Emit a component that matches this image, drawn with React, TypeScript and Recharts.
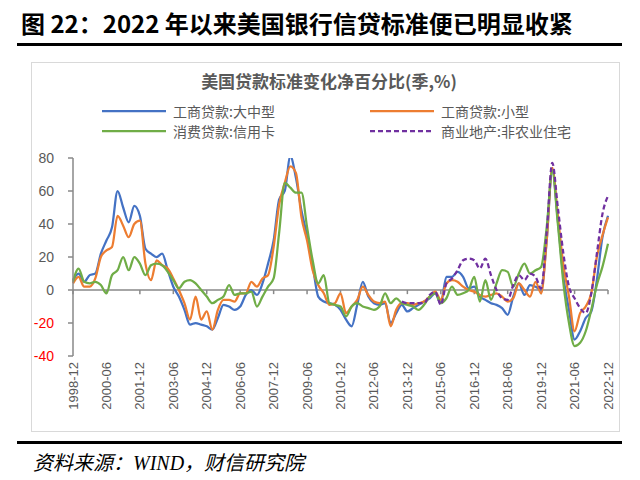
import { LineChart, Line, XAxis, YAxis, ReferenceLine } from "recharts";

// quarterly, 1998-12 .. 2022-12
const quarters = [
  "1998-12",
  "1999-03", "1999-06", "1999-09", "1999-12",
  "2000-03", "2000-06", "2000-09", "2000-12",
  "2001-03", "2001-06", "2001-09", "2001-12",
  "2002-03", "2002-06", "2002-09", "2002-12",
  "2003-03", "2003-06", "2003-09", "2003-12",
  "2004-03", "2004-06", "2004-09", "2004-12",
  "2005-03", "2005-06", "2005-09", "2005-12",
  "2006-03", "2006-06", "2006-09", "2006-12",
  "2007-03", "2007-06", "2007-09", "2007-12",
  "2008-03", "2008-06", "2008-09", "2008-12",
  "2009-03", "2009-06", "2009-09", "2009-12",
  "2010-03", "2010-06", "2010-09", "2010-12",
  "2011-03", "2011-06", "2011-09", "2011-12",
  "2012-03", "2012-06", "2012-09", "2012-12",
  "2013-03", "2013-06", "2013-09", "2013-12",
  "2014-03", "2014-06", "2014-09", "2014-12",
  "2015-03", "2015-06", "2015-09", "2015-12",
  "2016-03", "2016-06", "2016-09", "2016-12",
  "2017-03", "2017-06", "2017-09", "2017-12",
  "2018-03", "2018-06", "2018-09", "2018-12",
  "2019-03", "2019-06", "2019-09", "2019-12",
  "2020-03", "2020-06", "2020-09", "2020-12",
  "2021-03", "2021-06", "2021-09", "2021-12",
  "2022-03", "2022-06", "2022-09", "2022-12",
];

// labelled quarters on the x axis
const tickQuarters = [
  "1998-12", "2000-06", "2001-12", "2003-06", "2004-12", "2006-06", "2007-12", "2009-06",
  "2010-12", "2012-06", "2013-12", "2015-06", "2016-12", "2018-06", "2019-12", "2021-06", "2022-12",
];

// 工商贷款:大中型
const largeLoans = [
  6, 10, 5, 9, 10, 22, 30, 38, 60, 50, 41, 51, 45, 25, 22, 20, 22, 12, 2, -4,
  -12, -21, -20, -21, -22, -24, -17, -9, -10, -12, -10, -3, 0, -3, 4, 16, 30, 55, 60, 81,
  68, 48, 33, 15, -4, -7, -8, -9, -12, -18, -22, -9, 5, -4, -8, -9, -8, -20, -14, -9,
  -13, -11, -9, -7, -5, -2, -8, 8, 8, 11, 8, 1, 2, -4, -6, -8, -9, -11, -15, -4,
  4, -3, 3, 2, 0, 30, 73, 42, 8, -12, -30, -25, -17, -13, 6, 32, 45,
];

// 工商贷款:小型
const smallLoans = [
  4, 8, 2, 2, 7, 20, 24, 26, 45, 39, 32, 40, 42, 16, 6, 18, 15, 13, 7, 0,
  -8, -18, -4, -18, -13, -24, -12, -6, -6, -7, -2, -2, 5, 2, 7, 9, 26, 52, 65, 75,
  71, 44, 30, 12, 3, -2, -9, -8, -2, -14, -10, -6, 2, -3, -7, -8, -7, -22, -12, -8,
  -8, -9, -8, -7, -4, -1, -6, 4, 6, 5, 2, 0, -1, -3, -4, -3, -2, -4, -7, -5,
  4, 0, -4, 5, -2, 30, 74, 45, 15, -4, -25, -14, -10, -2, 20, 33, 44,
];

// 消费贷款:信用卡
const creditCards = [
  5, 13, 5, 4, 5, 3, -2, 9, 12, 20, 12, 20, 16, 9, 15, 16, 15, 11, 6, 1,
  5, 6, 4, 0, -4, -8, -6, -4, 3, -3, -2, -2, -1, -10, -4, 2, 7, 35, 65, 62,
  59, 59, 38, 18, 4, 9, -8, -9, -10, -16, -10, -8, -10, -11, -12, -10, -2, -8, -5, -8,
  -9, -10, -12, -9, -4, -2, -8, -5, 2, -3, -2, 0, 8, -7, 6, -6, 4, 12, 11, 2,
  10, 16, 10, 12, 14, 38, 72, 40, 4, -20, -34, -32, -25, -12, 3, 14, 28,
];

// 商业地产:非农业住宅 (series starts 2013-09)
const commercialStart = "2013-09";
const commercialRE = [
  -7, -8, -8, -8, -8, -3, -1, -9, 4, 7, 12, 18, 19, 18, 13, 19, 9, 0, -5, -6,
  3, 9, 6, 10, 8, 1, 35, 77, 50, 22, 2, -5, -11, -14, -2, 22, 46, 57,
];

const yTicks = [-40, -20, 0, 20, 40, 60, 80];

const startIdx = quarters.indexOf(commercialStart);
const data = quarters.map((q, i) => ({
  q,
  large: largeLoans[i],
  small: smallLoans[i],
  card: creditCards[i],
  cre: i >= startIdx ? commercialRE[i - startIdx] : null,
}));

const series = [
  { key: "large", name: "工商贷款:大中型", color: "#4472C4", dash: undefined },
  { key: "small", name: "工商贷款:小型", color: "#ED7D31", dash: undefined },
  { key: "card", name: "消费贷款:信用卡", color: "#70AD47", dash: undefined },
  { key: "cre", name: "商业地产:非农业住宅", color: "#7030A0", dash: "5 3" },
];

const cjk = '"Noto Sans CJK SC", "Noto Sans", sans-serif';
const latin = '"Liberation Sans", Arial, sans-serif';

function XTick({ x, y, payload }: any) {
  const ty = y - 2;
  return (
    <text
      x={x}
      y={ty}
      transform={`rotate(-90 ${x} ${ty})`}
      textAnchor="end"
      dominantBaseline="central"
      fontSize={13}
      fontFamily={latin}
      fill="#595959"
    >
      {payload.value}
    </text>
  );
}

function YTick({ x, y, payload }: any) {
  return (
    <text
      x={x}
      y={y}
      textAnchor="end"
      dominantBaseline="central"
      fontSize={14}
      fontFamily={latin}
      fill={payload.value < 0 ? "#FF0000" : "#595959"}
    >
      {payload.value}
    </text>
  );
}

function LegendItem({ s, left, top }: { s: (typeof series)[number]; left: number; top: number }) {
  return (
    <div style={{ position: "absolute", left, top, display: "flex", alignItems: "center", height: 20 }}>
      <svg width={64} height={6} style={{ marginRight: 7 }}>
        <line x1={0} y1={3} x2={64} y2={3} stroke={s.color} strokeWidth={2.25} strokeDasharray={s.dash} />
      </svg>
      <span style={{ fontFamily: cjk, fontSize: 14, color: "#595959", whiteSpace: "nowrap" }}>{s.name}</span>
    </div>
  );
}

export default function App() {
  return (
    <div style={{ position: "absolute", left: 0, top: 0, width: 640, height: 480, background: "#fff", overflow: "hidden" }}>
      <div
        style={{
          position: "absolute",
          left: 21,
          top: 5,
          fontFamily: cjk,
          fontWeight: 700,
          fontSize: 24,
          color: "#000",
          whiteSpace: "nowrap",
        }}
      >
        图 22：2022 年以来美国银行信贷标准便已明显收紧
      </div>
      <div style={{ position: "absolute", left: 17, top: 43, width: 605, height: 3, background: "#000" }} />

      <div style={{ position: "absolute", left: 31, top: 62, width: 589, height: 370, border: "1px solid #d9d9d9", boxSizing: "border-box" }} />

      <div
        style={{
          position: "absolute",
          left: 0,
          width: 658,
          top: 68,
          textAlign: "center",
          fontFamily: cjk,
          fontWeight: 700,
          fontSize: 17,
          color: "#595959",
        }}
      >
        美国贷款标准变化净百分比(季,%)
      </div>
      <LegendItem s={series[0]} left={102} top={101} />
      <LegendItem s={series[1]} left={370} top={101} />
      <LegendItem s={series[2]} left={102} top={121} />
      <LegendItem s={series[3]} left={370} top={121} />

      <div style={{ position: "absolute", left: 0, top: 0 }}>
        <LineChart width={640} height={480} data={data} margin={{ top: 158, right: 32, bottom: 70, left: 33 }}>
          <XAxis
            dataKey="q"
            interval={5}
            axisLine={false}
            tickLine={false}
            tick={<XTick />}
            height={54}
          />
          <YAxis
            domain={[-40, 80]}
            ticks={yTicks}
            width={40}
            axisLine={{ stroke: "#898989", strokeWidth: 1.5 }}
            tickLine={{ stroke: "#898989", strokeWidth: 1.5 }}
            tickSize={5}
            tickMargin={14}
            tick={<YTick />}
            allowDataOverflow
          />
          <ReferenceLine y={0} stroke="#898989" strokeWidth={1.5} />
          {tickQuarters.map((q) => (
            <ReferenceLine
              key={q}
              segment={[
                { x: q, y: 0 },
                { x: q, y: -2.5 },
              ]}
              stroke="#898989"
              strokeWidth={1.5}
            />
          ))}
          {series.map((s) => (
            <Line
              key={s.key}
              dataKey={s.key}
              name={s.name}
              type="monotone"
              stroke={s.color}
              strokeWidth={2.25}
              strokeDasharray={s.dash}
              dot={false}
              isAnimationActive={false}
            />
          ))}
        </LineChart>
      </div>

      <div style={{ position: "absolute", left: 17, top: 441, width: 605, height: 3, background: "#000" }} />
      <div
        style={{
          position: "absolute",
          left: 33,
          top: 447,
          fontFamily: '"Noto Sans CJK SC", "Liberation Serif", serif',
          fontStyle: "italic",
          fontSize: 20,
          color: "#000",
          whiteSpace: "nowrap",
        }}
      >
        资料来源：<span style={{ fontFamily: '"Liberation Serif", serif' }}>WIND</span>，财信研究院
      </div>
    </div>
  );
}
